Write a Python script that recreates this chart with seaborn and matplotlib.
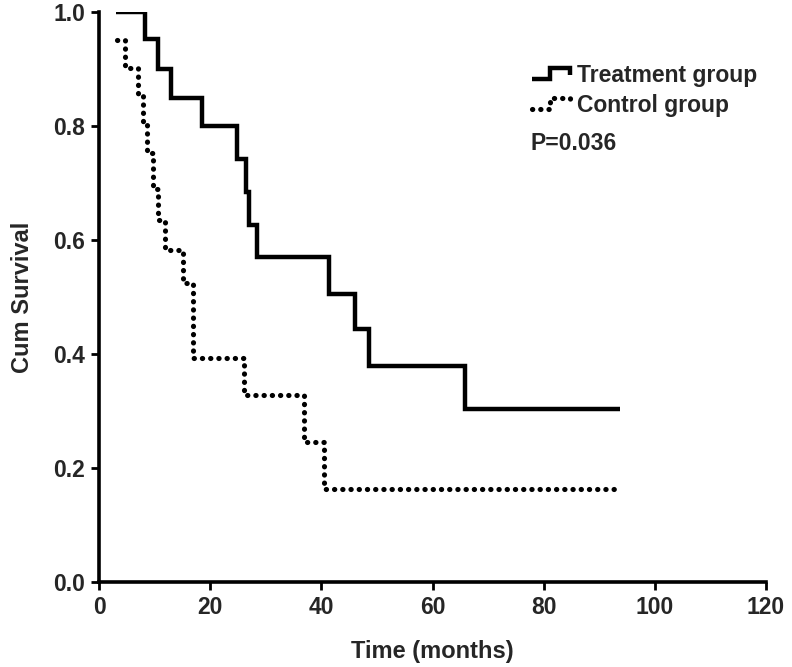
import numpy as np
import pandas as pd
import matplotlib
matplotlib.use("Agg")
import matplotlib.pyplot as plt
from matplotlib.legend_handler import HandlerBase
from matplotlib.lines import Line2D
import seaborn as sns

# ---- data ----
treat_time = [3.0, 8.3, 10.6, 13.0, 18.6, 24.8, 26.5, 26.9, 28.5, 41.3, 46.1, 48.5, 65.8, 93.8]
treat_surv = [1.0, 0.953, 0.90, 0.85, 0.80, 0.742, 0.684, 0.626, 0.57, 0.505, 0.444, 0.379, 0.303, 0.303]
ctrl_time = [3.2, 4.7, 7.0, 7.9, 8.6, 9.7, 10.6, 11.9, 15.1, 17.0, 26.0, 36.9, 40.5, 93.5]
ctrl_surv = [0.951, 0.902, 0.855, 0.805, 0.752, 0.69, 0.635, 0.582, 0.524, 0.393, 0.328, 0.245, 0.163, 0.163]
group_names = ["Treatment group", "Control group"]
x_ticks = [0, 20, 40, 60, 80, 100, 120]
y_ticks = [0.0, 0.2, 0.4, 0.6, 0.8, 1.0]
p_text = "P=0.036"

sns.set_theme(style="white")
plt.rcParams["font.family"] = ["Liberation Sans", "DejaVu Sans"]
plt.rcParams["font.weight"] = "bold"
fs = 16.5

df_t = pd.DataFrame({"time": treat_time, "surv": treat_surv})
df_c = pd.DataFrame({"time": ctrl_time, "surv": ctrl_surv})

fig = plt.figure(figsize=(7.92, 6.67), dpi=100)
ax = fig.add_axes([99 / 792, 1 - 582 / 667, 667 / 792, 570 / 667])

sns.lineplot(data=df_t, x="time", y="surv", ax=ax, estimator=None, sort=False,
             drawstyle="steps-post", color="black", linewidth=3.2,
             solid_capstyle="butt", solid_joinstyle="miter", label=group_names[0])
sns.lineplot(data=df_c, x="time", y="surv", ax=ax, estimator=None, sort=False,
             drawstyle="steps-post", color="black", linewidth=3.7,
             linestyle=(0, (0.05, 1.55)), dash_capstyle="round", label=group_names[1])

ax.set_xlim(0, 120)
ax.set_ylim(0, 1.0)
ax.set_xticks(x_ticks)
ax.set_yticks(y_ticks)
ax.set_yticklabels([f"{v:.1f}" for v in y_ticks])
for s in ["top", "right"]:
    ax.spines[s].set_visible(False)
for s in ["left", "bottom"]:
    ax.spines[s].set_linewidth(2.6)
    ax.spines[s].set_color("black")
ax.tick_params(axis="both", which="major", direction="out", length=6, width=2,
               color="black", labelsize=fs, pad=4, bottom=True, left=True)
for lab in ax.get_xticklabels() + ax.get_yticklabels():
    lab.set_fontweight("bold")

ax.set_xlabel("Time (months)", fontsize=fs + 0.5, fontweight="bold", labelpad=15)
ax.set_ylabel("Cum Survival", fontsize=fs + 0.5, fontweight="bold", labelpad=14)


class StepHandler(HandlerBase):
    def create_artists(self, legend, orig_handle, xdescent, ydescent, width, height, fontsize, trans):
        xs = np.array([0.0, 0.45, 0.45, 0.95, 0.95]) * width - xdescent
        ys = np.array([0.2, 0.2, 0.9, 0.9, 0.45]) * height - ydescent
        line = Line2D(xs, ys)
        line.update_from(orig_handle)
        line.set_transform(trans)
        return [line]


handles, labels = ax.get_legend_handles_labels()
leg = ax.legend(handles, labels, loc="upper left", bbox_to_anchor=(0.636, 0.924),
                frameon=False, fontsize=fs, handlelength=1.75, handletextpad=0.2,
                labelspacing=0.3, borderaxespad=0,
                handler_map={h: StepHandler() for h in handles})
for t in leg.get_texts():
    t.set_fontweight("bold")

ax.text(0.647, 0.770, p_text, transform=ax.transAxes, fontsize=fs,
        fontweight="bold", ha="left", va="center")

fig.savefig("out.png", dpi=100)
